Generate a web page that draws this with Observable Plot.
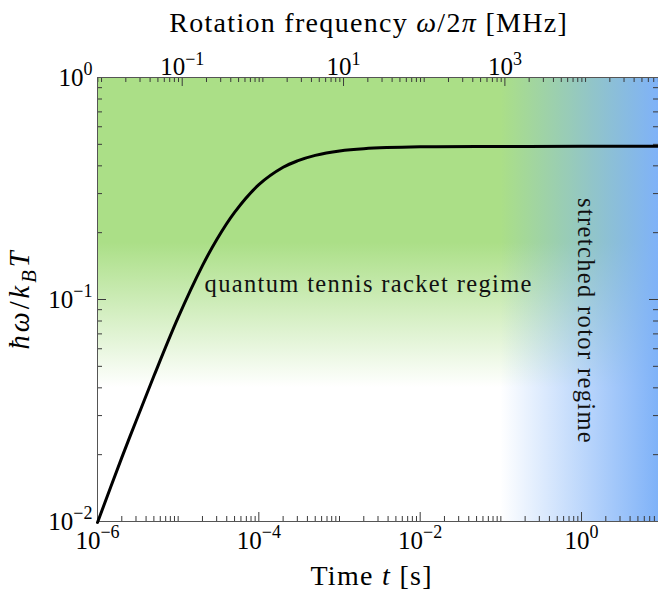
<!DOCTYPE html>
<html><head><meta charset="utf-8">
<script src="https://cdn.jsdelivr.net/npm/d3@7"></script>
<script src="https://cdn.jsdelivr.net/npm/@observablehq/plot@0.6"></script>
<style>
html,body{margin:0;padding:0;background:#fff;overflow:hidden}
svg text{font-family:"Liberation Serif",serif}
</style>
</head><body><div id="chart"></div>
<script>
// ---------- data ----------
const timeS = [1e-6, 2e-6, 3e-6, 5e-6, 1e-5, 2e-5, 3e-5, 5e-5, 1e-4, 2e-4, 3e-4, 5e-4, 1e-3, 2e-3, 1e-2, 1e-1, 1, 9];
const hbarOmegaOverKT = [0.0099, 0.0194, 0.0283, 0.0452, 0.083, 0.142, 0.186, 0.247, 0.329, 0.394, 0.421, 0.446, 0.467, 0.478, 0.487, 0.489, 0.49, 0.49];

const timeDomain = [1e-6, 9];          // seconds (right edge cut in the reference)
const yDomain = [1e-2, 1];
const freqMHzPerSecond = Math.pow(10, 3.95); // top axis: ω/2π [MHz] = this × t

const bottomTickValues = [1e-6, 1e-4, 1e-2, 1];
const bottomTickLabels = ["10^{−6}", "10^{−4}", "10^{−2}", "10^{0}"];
const topTickValuesMHz = [1e-1, 1e1, 1e3];
const topTickLabels = ["10^{−1}", "10^{1}", "10^{3}"];
const leftTickValues = [1e-2, 1e-1, 1];
const leftTickLabels = ["10^{−2}", "10^{−1}", "10^{0}"];

const greenSolidAbove = 0.18;   // ħω/kT where green starts to fade
const greenGoneBelow = 0.04;    // ħω/kT where green has faded to white
const blueStartTime = 0.1;      // s, where blue ramp begins

const regionLabels = [
  {text: "quantum tennis racket regime", t: 2.3e-3, y: 0.117, rotate: 0},
  {text: "stretched rotor regime", t: 1.12, y: 0.08, rotate: 90}
];

const xLabel = "Time $t$ [s]";
const yLabel = "$ħω$/$k$_{$B$}$T$";
const topLabel = "Rotation frequency $ω$/2$π$ [MHz]";

// ---------- layout ----------
const W = 658, H = 601, mL = 97, mR = 0, mT = 77, mB = 80;
const plotW = W - mL - mR, plotH = H - mT - mB;
const majorLen = 9, minorLen = 5;
const serif = "Liberation Serif";
const tickFS = 25, regionFS = 24.5, titleFS = 28, yTitleFS = 28.5;
const spacingBySize = {[tickFS]: 0, [regionFS]: 1.35, [titleFS]: 1.3, [yTitleFS]: 2};
const yTitleBox = {cx: 22, cy: 299, length: 103};

function decadeTicks(lo, hi) {
  const out = [];
  for (let e = Math.floor(Math.log10(lo)) - 1; e <= Math.ceil(Math.log10(hi)) + 1; e++)
    for (let k = 1; k <= 9; k++) out.push(k * Math.pow(10, e));
  return out;
}
const inX = t => t >= timeDomain[0] * 0.9999 && t <= timeDomain[1] * 1.0001;
const inY = v => v >= yDomain[0] * 0.9999 && v <= yDomain[1] * 1.0001;
const isMajor = (v, majors) => majors.some(m => Math.abs(v / m - 1) < 1e-6);

const xMinor = decadeTicks(...timeDomain).filter(inX).filter(v => !isMajor(v, bottomTickValues));
const topMinorT = decadeTicks(timeDomain[0] * freqMHzPerSecond, timeDomain[1] * freqMHzPerSecond)
  .filter(f => !isMajor(f, topTickValuesMHz)).map(f => f / freqMHzPerSecond).filter(inX);
const topMajorT = topTickValuesMHz.map(f => f / freqMHzPerSecond);
const yMinor = decadeTicks(...yDomain).filter(inY).filter(v => !isMajor(v, leftTickValues));

const curveData = timeS.map((t, i) => ({t, v: hbarOmegaOverKT[i]}));
const box = [{x1: timeDomain[0], x2: timeDomain[1], y1: yDomain[0], y2: yDomain[1]}];
const blueBox = [{x1: blueStartTime, x2: timeDomain[1], y1: yDomain[0], y2: yDomain[1]}];

const tickStroke = "#3a3a3a";
const chart = Plot.plot({
  width: W, height: H,
  marginLeft: mL, marginRight: mR, marginTop: mT, marginBottom: mB,
  x: {type: "log", domain: timeDomain, axis: null},
  y: {type: "log", domain: yDomain, axis: null},
  style: {background: "#fff"},
  marks: [
    Plot.rect(box, {x1: "x1", x2: "x2", y1: "y1", y2: "y2", fill: "url(#greenGrad)"}),
    Plot.rect(blueBox, {x1: "x1", x2: "x2", y1: "y1", y2: "y2", fill: "url(#blueGrad)"}),
    // ticks (inward)
    Plot.ruleX(bottomTickValues, {x: d => d, insetTop: plotH - majorLen, stroke: tickStroke}),
    Plot.ruleX(xMinor, {x: d => d, insetTop: plotH - minorLen, stroke: tickStroke}),
    Plot.ruleX(topMajorT, {x: d => d, insetBottom: plotH - majorLen, stroke: tickStroke}),
    Plot.ruleX(topMinorT, {x: d => d, insetBottom: plotH - minorLen, stroke: tickStroke}),
    Plot.ruleY(leftTickValues, {y: d => d, insetRight: plotW - majorLen, stroke: tickStroke}),
    Plot.ruleY(yMinor, {y: d => d, insetRight: plotW - minorLen, stroke: tickStroke}),
    Plot.ruleY(leftTickValues, {y: d => d, insetLeft: plotW - majorLen, stroke: tickStroke}),
    Plot.ruleY(yMinor, {y: d => d, insetLeft: plotW - minorLen, stroke: tickStroke}),
    Plot.frame({stroke: "#555", strokeWidth: 1}),
    Plot.line(curveData, {x: "t", y: "v", stroke: "#000", strokeWidth: 3, curve: "catmull-rom"}),
    // tick labels
    Plot.text(bottomTickValues, {x: d => d, text: (d, i) => bottomTickLabels[i], frameAnchor: "bottom", dy: 27,
      fontFamily: serif, fontSize: tickFS, fill: "#000"}),
    Plot.text(topMajorT, {x: d => d, text: (d, i) => topTickLabels[i], frameAnchor: "top", dy: -20,
      fontFamily: serif, fontSize: tickFS, fill: "#000"}),
    Plot.text(leftTickValues, {y: d => d, text: (d, i) => leftTickLabels[i], frameAnchor: "left", textAnchor: "end", dx: -5,
      fontFamily: serif, fontSize: tickFS, fill: "#000"}),
    // region labels
    Plot.text(regionLabels, {x: "t", y: "y", text: "text", rotate: "rotate", fontFamily: serif, fontSize: regionFS, fill: "#111"}),
    // axis titles
    Plot.text([xLabel], {frameAnchor: "bottom", dy: 63, dx: -7, text: d => d, fontFamily: serif, fontSize: titleFS, fill: "#000"}),
    Plot.text([topLabel], {frameAnchor: "top", dy: -65, dx: -10, text: d => d, fontFamily: serif, fontSize: titleFS, fill: "#000"}),
    Plot.text([yLabel], {frameAnchor: "left", dx: -75, rotate: -90, text: d => d, fontFamily: serif, fontSize: yTitleFS, fill: "#000"})
  ]
});

document.getElementById("chart").appendChild(chart);

// gradients, positioned through the plot's own y scale
const yScale = chart.scale("y");
const yTopPx = yScale.apply(yDomain[1]), yBotPx = yScale.apply(yDomain[0]);
const off = v => ((yScale.apply(v) - yTopPx) / (yBotPx - yTopPx));
const svg = d3.select(chart);
const defs = svg.insert("defs", ":first-child");
const gg = defs.append("linearGradient").attr("id", "greenGrad").attr("x1", 0).attr("x2", 0).attr("y1", 0).attr("y2", 1);
gg.append("stop").attr("offset", off(greenSolidAbove)).attr("stop-color", "#abdf87");
gg.append("stop").attr("offset", off(greenGoneBelow)).attr("stop-color", "#ffffff");
const bg = defs.append("linearGradient").attr("id", "blueGrad").attr("x1", 0).attr("x2", 1).attr("y1", 0).attr("y2", 0);
bg.append("stop").attr("offset", 0).attr("stop-color", "#7fb2f8").attr("stop-opacity", 0);
bg.append("stop").attr("offset", 1).attr("stop-color", "#7fb2f8").attr("stop-opacity", 1);

// rich text (italic math, super/subscripts)
function parseMarkup(s) {
  const segs = []; let italic = false, shift = 0, buf = "";
  const flush = () => { if (buf) segs.push({t: buf, italic, shift}); buf = ""; };
  for (let i = 0; i < s.length; i++) {
    const c = s[i];
    if (c === "$") { flush(); italic = !italic; }
    else if ((c === "^" || c === "_") && s[i + 1] === "{") { flush(); shift = c === "^" ? 1 : -1; i++; }
    else if (c === "}" && shift !== 0) { flush(); shift = 0; }
    else buf += c;
  }
  flush(); return segs;
}
function applyMarkup(el, fs) {
  const s = el.textContent;
  if (!/[\$\^_]/.test(s)) return false;
  const segs = parseMarkup(s);
  while (el.firstChild) el.removeChild(el.firstChild);
  let cur = 0;
  for (const g of segs) {
    const ts = document.createElementNS("http://www.w3.org/2000/svg", "tspan");
    ts.textContent = g.t;
    if (g.italic) ts.setAttribute("font-style", "italic");
    const target = g.shift === 1 ? -0.42 * fs : g.shift === -1 ? 0.22 * fs : 0;
    if (g.shift) ts.setAttribute("font-size", 0.72 * fs);
    if (target !== cur) ts.setAttribute("dy", target - cur);
    cur = target;
    el.appendChild(ts);
  }
  return true;
}
let yTitleEl = null;
svg.selectAll("text").each(function () {
  const fs = parseFloat(getComputedStyle(this).fontSize);
  const anchor = getComputedStyle(this).textAnchor;
  const rich = applyMarkup(this, fs);
  const ls = spacingBySize[fs];
  if (ls) this.setAttribute("letter-spacing", ls);
  if (rich && (anchor === "middle" || anchor === "end")) {
    const len = this.getComputedTextLength() - (ls || 0);
    this.style.textAnchor = "start";
    const x0 = parseFloat(this.getAttribute("x") || 0);
    this.setAttribute("x", x0 - (anchor === "middle" ? len / 2 : len));
  }
  if (this.textContent.includes("ħ")) yTitleEl = this;
});

// place the rotated y title by its measured box
if (yTitleEl) {
  const n = yTitleEl.textContent.length;
  yTitleEl.setAttribute("letter-spacing", 0);
  const len0 = yTitleEl.getBoundingClientRect().height;
  yTitleEl.setAttribute("letter-spacing", Math.max(0, (yTitleBox.length - len0) / n));
  const r = yTitleEl.getBoundingClientRect(), s = chart.getBoundingClientRect();
  const dx = yTitleBox.cx - (r.left + r.width / 2 - s.left);
  const dy = yTitleBox.cy - (r.top + r.height / 2 - s.top);
  yTitleEl.setAttribute("transform", `translate(${dx},${dy}) ` + (yTitleEl.getAttribute("transform") || ""));
}
</script>
</body></html>
